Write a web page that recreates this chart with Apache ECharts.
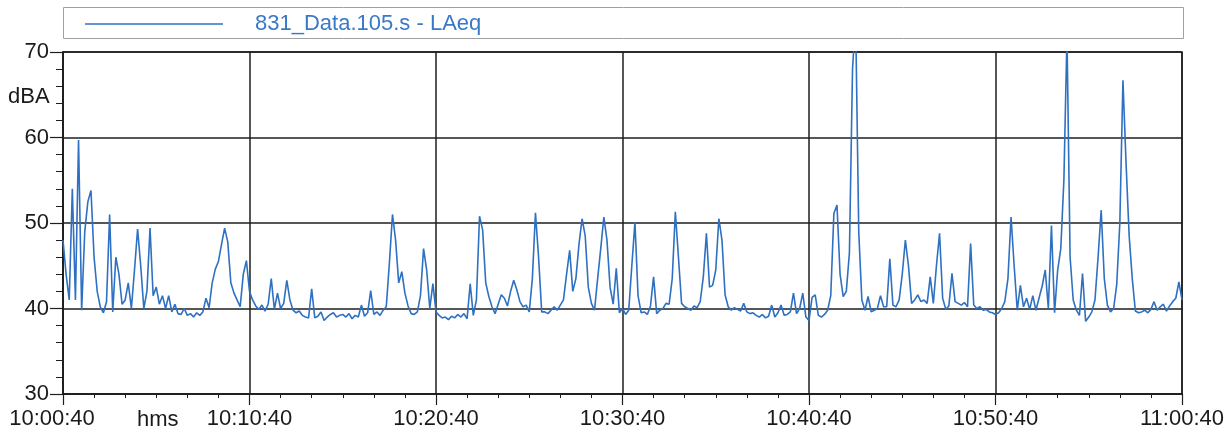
<!DOCTYPE html>
<html>
<head>
<meta charset="utf-8">
<script src="https://cdn.jsdelivr.net/npm/echarts@6/dist/echarts.min.js"></script>
<style>
html,body{margin:0;padding:0;background:#fff;}
#chart{width:1232px;height:436px;}
</style>
</head>
<body>
<div id="chart"></div>
<script>
// Sample step: 10 seconds, starting at 10:00:40
const seriesName = '831_Data.105.s - LAeq';
const stepSeconds = 10;
const tickLabels = ['10:00:40','10:10:40','10:20:40','10:30:40','10:40:40','10:50:40','11:00:40'];
const laeq = [
 48,44,41,54,41,59.7,39.8,49,52.5,53.8,
 46,42,40.2,39.5,40.8,51,39.6,46,44,40.5,
 41,43,40,44.5,49.3,45,40,42,49.4,41.5,
 42.5,40.5,41.5,40,41.5,39.6,40.5,39.4,39.3,40.0,
 39.2,39.4,39.0,39.5,39.2,39.6,41.2,40.1,43,44.6,
 45.5,47.5,49.4,47.8,43,41.8,41,40.2,44,45.6,
 42,41.0,40.3,39.9,40.4,39.7,40.5,43.5,39.9,41.8,
 40.0,40.6,43.3,41,39.8,39.5,39.7,39.2,39.0,38.9,
 42.3,38.9,39.1,39.6,38.6,39.0,39.3,39.5,39.0,39.2,
 39.3,39.0,39.4,38.8,39.2,39.0,40.4,39.1,39.5,42.1,
 39.3,39.6,39.2,39.8,40.2,45.3,51,48,43,44.3,
 41.8,40.3,39.4,39.3,39.6,41.5,47,44.5,40,42.9,
 39.6,39.2,38.9,39.0,38.7,39.1,38.9,39.3,39.0,39.4,
 38.8,42.9,39.2,41,50.8,49.2,43,41.4,40.2,39.4,
 40.5,41.6,41.2,40.3,42,43.3,42.2,40.8,40.2,40.4,
 39.6,43.5,51.2,46,39.6,39.6,39.4,39.8,40.2,39.8,
 40.4,41,44,46.8,42,43.5,47.5,50.5,48.5,42.5,
 40.6,39.8,43.5,47,50.7,48,42.5,40.5,44.7,39.5,
 40.0,39.3,39.8,45,50.1,41.5,39.5,39.6,39.3,40.3,
 43.7,39.4,39.8,40.0,40.6,40.5,43.5,51.3,46,40.6,
 40.2,40.0,39.8,40.3,40.1,40.8,43.7,48.8,42.5,42.7,
 44.5,50.5,48,41.6,40.2,39.8,40.1,39.9,39.7,40.6,
 39.6,39.4,39.5,39.2,39.0,39.3,38.9,39.1,40.4,39.0,
 39.5,40.4,39.2,39.3,39.6,41.8,39.4,40.0,41.8,39.0,
 38.6,41.3,41.6,39.2,39.0,39.3,39.8,41.5,51.1,52.1,
 44,41.4,42,46.5,68,74,49,41,39.8,41.4,
 39.6,39.8,40,41.5,40.2,40.2,45.8,40.4,40.2,41,
 44,48,45,40.6,41.0,41.6,40.8,41.0,40.6,43.7,
 40.6,45,48.8,41.2,39.9,40.3,44.1,40.8,40.6,40.4,
 40.7,40.2,47.6,40.4,40.0,40.2,39.8,39.9,39.6,39.5,
 39.3,39.5,40.0,40.8,43.5,50.7,45,39.8,42.7,40.2,
 41.2,39.9,41.5,39.8,41.2,42.6,44.5,40,49.7,39.5,
 44.5,47,55,72,46,41,39.8,39.2,44.1,38.5,
 39.0,39.6,41,46,51.5,43.5,40.4,39.6,40,42.8,
 50,66.7,57,48.5,43.5,39.7,39.5,39.6,39.8,39.5,
 39.9,40.8,39.8,40.2,40.5,39.7,40.3,40.8,41.2,43.1,
 41.0
];
const yMin = 30, yMax = 70, yStep = 10;
const xMax = (tickLabels.length - 1) * 600;

const points = laeq.map((v, i) => [i * stepSeconds, v]);
const font = "'Liberation Sans', Arial, sans-serif";
const chart = echarts.init(document.getElementById('chart'), null, {renderer: 'canvas'});
chart.setOption({
  animation: false,
  backgroundColor: '#ffffff',
  grid: {left: 63, right: 50, top: 52, bottom: 42, show: true, borderColor: '#1e1e1e', borderWidth: 1.5},
  legend: {
    left: 80, top: 8,
    icon: 'rect',
    itemWidth: 138, itemHeight: 1.5,
    data: [seriesName],
    textStyle: {fontSize: 22, color: '#3a78c8', fontFamily: font, padding: [0, 0, 0, 27]}
  },
  graphic: [
    {type: 'rect', shape: {x: 63.5, y: 7.5, width: 1120, height: 31}, style: {fill: 'none', stroke: '#a0a0a0', lineWidth: 1}, z: -1},
    {type: 'text', x: 8, y: 97, style: {text: 'dBA', font: "22px 'Liberation Sans', Arial, sans-serif", fill: '#1a1a1a', textVerticalAlign: 'middle'}},
    {type: 'text', x: 137, y: 420, style: {text: 'hms', font: "22px 'Liberation Sans', Arial, sans-serif", fill: '#1a1a1a', textVerticalAlign: 'middle'}}
  ],
  xAxis: {
    type: 'value', min: 0, max: xMax, interval: 600,
    axisLine: {lineStyle: {color: '#1e1e1e', width: 1.5}},
    axisTick: {show: true, length: 11, lineStyle: {color: '#1e1e1e', width: 1.2}},
    minorTick: {show: true, splitNumber: 6, length: 4, lineStyle: {color: '#1e1e1e', width: 1}},
    splitLine: {show: true, lineStyle: {color: '#1e1e1e', width: 1.5}},
    axisLabel: {fontSize: 22, color: '#1a1a1a', fontFamily: font, margin: 14,
      formatter: v => {
        const idx = Math.round(v / 600);
        const t = tickLabels[idx] || '';
        return idx === 0 ? '{first|' + t + '}' : t;
      },
      rich: {first: {fontSize: 22, color: '#1a1a1a', fontFamily: font, padding: [0, 22, 0, 0]}}
    }
  },
  yAxis: {
    type: 'value', min: yMin, max: yMax, interval: yStep,
    axisLine: {show: true, lineStyle: {color: '#1e1e1e', width: 1.5}},
    axisTick: {show: true, length: 13, lineStyle: {color: '#1e1e1e', width: 1.2}},
    minorTick: {show: true, splitNumber: 5, length: 7, lineStyle: {color: '#1e1e1e', width: 1}},
    splitLine: {show: true, lineStyle: {color: '#1e1e1e', width: 1.5}},
    axisLabel: {fontSize: 22, color: '#1a1a1a', fontFamily: font, margin: 14}
  },
  series: [{
    name: seriesName,
    type: 'line',
    data: points,
    symbol: 'none',
    showSymbol: false,
    clip: true,
    lineStyle: {color: '#2e70c2', width: 1.6},
    itemStyle: {color: '#2e70c2'}
  }]
});
</script>
</body>
</html>
